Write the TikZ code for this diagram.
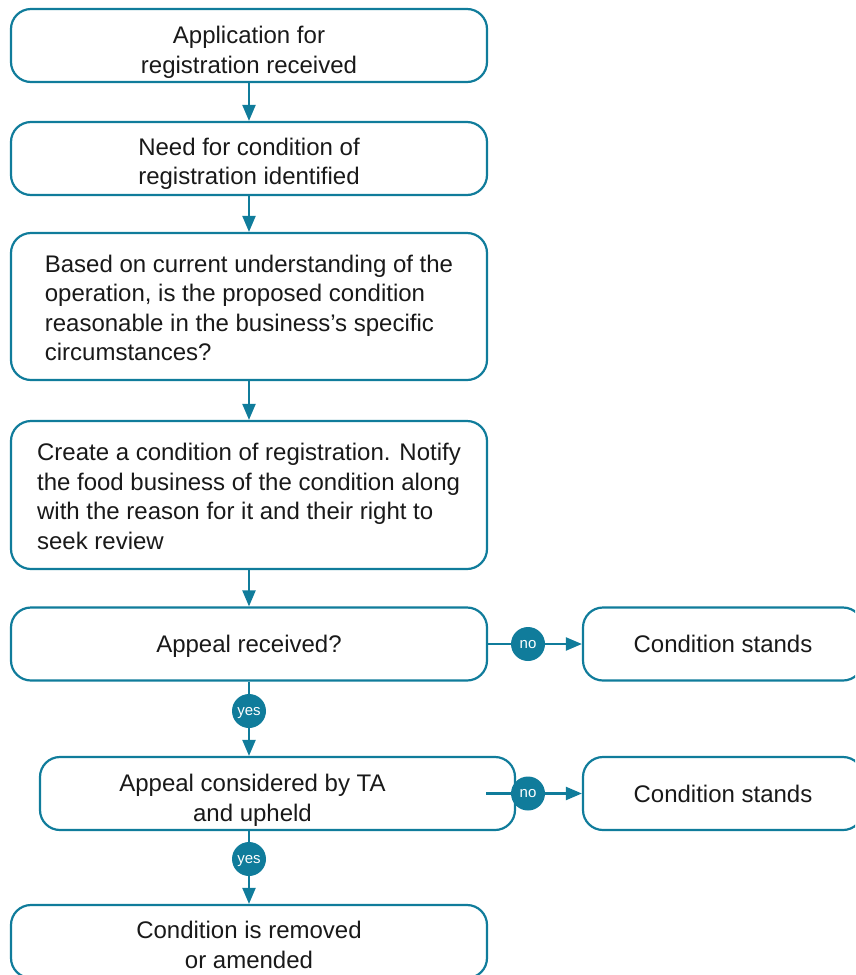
\documentclass[tikz,border=0pt]{standalone}
\usepackage{fontspec}
\setmainfont{Liberation Sans}
\usetikzlibrary{arrows.meta,graphs}

\definecolor{flowteal}{RGB}{16,124,155}
% taller first line pushes the text a little down in its box
\newcommand{\dropline}[1][28pt]{\rule{0pt}{#1}}

\begin{document}
\begin{tikzpicture}[x=1pt,y=-1pt]
  \tikzset{box/.style={draw=flowteal, line width=2.2pt, rounded corners=20pt,
      minimum width=476pt, minimum height=73pt, inner sep=0pt, align=center,
      font=\fontsize{24}{29.5}\selectfont, text=black!90},
    tag/.style={circle, fill=flowteal, inner sep=0, minimum size=34pt,
      text=white, font=\fontsize{15}{15}\selectfont, text height=8pt,
      text depth=0pt},
    >={Triangle[length=16pt,width=13pt]},
    every edge/.style={draw=flowteal, line width=2.2pt}}
  \path[use as bounding box, clip] (0,0) rectangle (855,975);
  \node[box] (b1) at (249,45.5) {\dropline[31pt]Application for\\registration received};
  \node[box] (b2) at (249,158.5) {\dropline Need for condition of\\registration identified};
  \node[box, minimum height=147pt, align=left] (b3) at (249,306.5)
    {\dropline[20pt]Based on current understanding of the\\operation, is the proposed condition\\
     reasonable in the business's specific\\circumstances?};
  \node[box, minimum height=148pt, align=left] (b4) at (249,495)
    {\dropline[20pt]Create a condition of registration. Notify\\the food business of the condition along\\
     with the reason for it and their right to\\seek review};
  \node[box] (b5) at (249,644) {\dropline[22pt]Appeal received?};
  \node[box, minimum width=280pt] (s1) at (723,644) {Condition stands};
  \node[box, minimum width=475pt, label={[font=\fontsize{24}{29.5}\selectfont,
      align=center, text=black!90, xshift=-25pt]center:\dropline[31pt]Appeal considered by TA\\and upheld}]
    (b6) at (277.5,793.5) {};
  \node[box, minimum width=280pt] (s2) at (723,793.5) {Condition stands};
  \node[box] (b7) at (249,941.5) {\dropline[24pt]Condition is removed\\or amended};
  \node[tag] (yes1) at (249,711) {yes};
  \node[tag] (yes2) at (249,859) {yes};
  \node[tag] (no1) at (528,644) {no};
  \node[tag] (no2) at (528,793.5) {no};
  \coordinate (n2start) at (486,793.5);
      \graph[use existing nodes] {
        b1 -> b2;
        b2 -> b3;
        b3 -> b4;
        b4 -> b5;
        b5 -- yes1;
        b5 -- no1;
        no1 -> s1;
        n2start -- no2;
        no2 -> s2;
        yes2 -> b7;
      };
  \draw[flowteal, line width=2.2pt, ->] (yes1) -- (yes1 |- b6.north);
  \draw[flowteal, line width=2.2pt] (yes2 |- b6.south) -- (yes2);
\end{tikzpicture}
\end{document}
